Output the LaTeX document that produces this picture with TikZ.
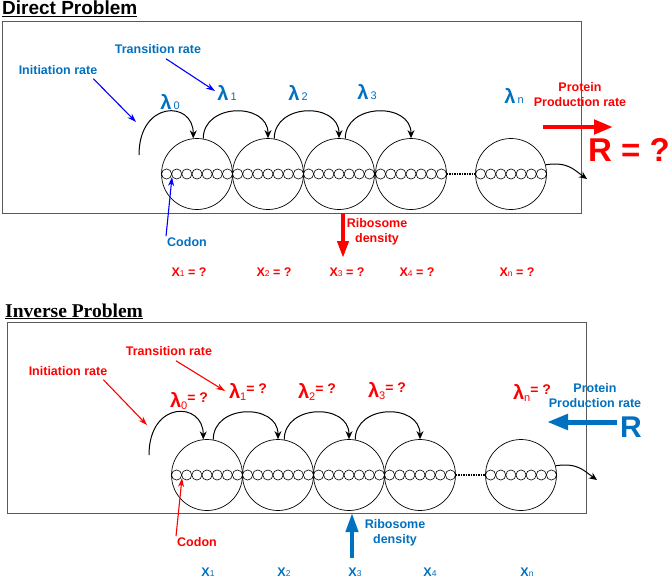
\documentclass[tikz,border=0pt]{standalone}
\usepackage{fontspec}
\setmainfont{Liberation Sans}
\newfontfamily\timesfont{Liberation Serif}
\usetikzlibrary{arrows.meta}
\definecolor{txtblue}{RGB}{0,112,192}
\definecolor{ptrblue}{RGB}{0,0,255}
\definecolor{ptrred}{RGB}{255,0,0}
\definecolor{boxgray}{RGB}{90,90,90}
\newcommand{\lam}[1]{{\fontsize{20}{20}\selectfont λ}\,{\fontsize{11}{11}\selectfont\mdseries #1}}
\newcommand{\lamq}[1]{{\fontsize{20}{20}\selectfont λ}\raisebox{-2pt}{\fontsize{11}{11}\selectfont\mdseries #1}\raisebox{5pt}{\fontsize{14}{14}\selectfont = ?}}
\newcommand{\xsub}[1]{X{\fontsize{8.5}{8.5}\selectfont\mdseries #1}}

\begin{document}
\begin{tikzpicture}[x=1pt,y=-1pt,
  ribo/.style={circle,draw,line width=0.7pt,minimum size=71pt,inner sep=0pt},
  lbl/.style={font=\fontsize{12.5}{15}\selectfont\bfseries,align=center,inner sep=0pt},
  hop/.style={line width=1pt,-{Stealth[length=8pt,width=7pt]}},
  ptr/.style={line width=1.1pt,-{Stealth[length=9pt,width=6pt]}},
  fat/.style={line width=4.5pt,-{Triangle[length=19pt,width=14pt]}},
  frame/.style={draw=boxgray,line width=0.9pt}]
\useasboundingbox (0,0) rectangle (669,578);

% direct problem
\node[font=\fontsize{19}{20}\selectfont\bfseries,anchor=base west,inner sep=0pt] (dtitle) at (2,14.5) {\underline{Direct Problem}};
\draw[frame] (2,21) rectangle (581,213);

\foreach \n/\x in {1/197,2/268,3/339,4/411,5/511}
  \node[ribo] (d\n) at (\x,174) {};
\foreach \n in {1,...,5}
  \foreach \k in {-3,...,3}
    \draw[line width=0.6pt] ([xshift=\k*10.14pt]d\n.center) circle[radius=5.07pt];
\draw[line width=1.3pt,dash pattern=on 1.5pt off 1pt] (d4.east) -- (d5.west);

\coordinate (dstart) at (139,155);
\coordinate (dout) at (587,179);
\draw[hop] (dstart) .. controls +(0,-55) and +(0,-38) .. (d1.96);
\foreach \a/\b in {1/2,2/3,3/4}
  \draw[hop] (d\a.80) .. controls +(0,-36) and +(0,-36) .. (d\b.north);
\draw[hop] (d5.15) .. controls +(22,-3) and +(-14,-10) .. (dout);

\node[lbl,text=txtblue] (dl0) at (170,102) {\lam{0}};
\node[lbl,text=txtblue] (dl1) at (227,93) {\lam{1}};
\node[lbl,text=txtblue] (dl2) at (298,93) {\lam{2}};
\node[lbl,text=txtblue] (dl3) at (367,92) {\lam{3}};
\node[lbl,text=txtblue] (dln) at (514,96) {\lam{n}};

\node[lbl,text=txtblue] (dinit) at (58,70) {Initiation rate};
\node[lbl,text=txtblue] (dtrans) at (158,49) {Transition rate};
\node[lbl,text=txtblue] (dcodon) at (187,242) {Codon};
\coordinate (dinitTip) at (136,122);
\coordinate (dtransTip) at (215,91);
\coordinate (dcodonTip) at (172,177);
\draw[ptr,ptrblue] ([xshift=-4pt,yshift=-4pt]dinit.south east) -- (dinitTip);
\draw[ptr,ptrblue] ([xshift=8pt,yshift=-5pt]dtrans.south) -- (dtransTip);
\draw[ptr,ptrblue] ([xshift=-1pt,yshift=1pt]dcodon.north west) -- (dcodonTip);

\coordinate (ddens0) at (343,213);
\coordinate (ddens1) at (343,258);
\draw[fat,ptrred,line width=4pt,-{Triangle[length=17pt,width=11pt]}] (ddens0) -- (ddens1);
\node[lbl,text=ptrred] (ddens) at (377,232) {Ribosome\\density};

\foreach \n/\x/\s in {1/189/1,2/274/2,3/347/3,4/417/4,5/517/n}
  \node[lbl,text=ptrred] (dx\n) at (\x,272) {\xsub{\s} = ?};

\node[lbl,text=ptrred] (dprot) at (580,95) {Protein\\Production rate};
\coordinate (dflow0) at (543,127);
\coordinate (dflow1) at (613,127);
\draw[fat,ptrred] (dflow0) -- (dflow1);
\node[text=ptrred,font=\fontsize{33}{33}\selectfont\bfseries,inner sep=0pt] (drate) at (629,150) {R = ?};

% inverse problem
\node[font=\fontsize{19.5}{20}\selectfont\bfseries\timesfont,anchor=base west,inner sep=0pt] (ititle) at (5,317) {\underline{Inverse Problem}};
\draw[frame] (7,322) rectangle (586,513);

\foreach \n/\x in {1/207,2/278,3/349,4/420,5/521}
  \node[ribo] (i\n) at (\x,475) {};
\foreach \n in {1,...,5}
  \foreach \k in {-3,...,3}
    \draw[line width=0.6pt] ([xshift=\k*10.14pt]i\n.center) circle[radius=5.07pt];
\draw[line width=1.3pt,dash pattern=on 1.5pt off 1pt] (i4.east) -- (i5.west);

\coordinate (istart) at (149,455);
\coordinate (iout) at (597,480);
\draw[hop] (istart) .. controls +(0,-55) and +(0,-38) .. (i1.96);
\foreach \a/\b in {1/2,2/3,3/4}
  \draw[hop] (i\a.80) .. controls +(0,-36) and +(0,-36) .. (i\b.north);
\draw[hop] (i5.15) .. controls +(22,-3) and +(-14,-10) .. (iout);

\node[lbl,text=ptrred] (il0) at (189,401) {\lamq{0}};
\node[lbl,text=ptrred] (il1) at (248,392) {\lamq{1}};
\node[lbl,text=ptrred] (il2) at (317,392) {\lamq{2}};
\node[lbl,text=ptrred] (il3) at (387,391) {\lamq{3}};
\node[lbl,text=ptrred] (iln) at (532,393) {\lamq{n}};

\node[lbl,text=ptrred] (iinit) at (68,371) {Initiation rate};
\node[lbl,text=ptrred] (itrans) at (169,351) {Transition rate};
\node[lbl,text=ptrred] (icodon) at (197,542) {Codon};
\coordinate (iinitTip) at (147,425);
\coordinate (itransTip) at (225,391);
\coordinate (icodonTip) at (182,478);
\draw[ptr,ptrred] ([xshift=-4pt,yshift=-4pt]iinit.south east) -- (iinitTip);
\draw[ptr,ptrred] ([xshift=7pt,yshift=-5pt]itrans.south) -- (itransTip);
\draw[ptr,ptrred] ([xshift=-1pt,yshift=1pt]icodon.north west) -- (icodonTip);

\coordinate (idens0) at (352,558);
\coordinate (idens1) at (352,513);
\draw[fat,txtblue,line width=4pt,-{Triangle[length=19pt,width=12pt]}] (idens0) -- (idens1);
\node[lbl,text=txtblue] (idens) at (395,533) {Ribosome\\density};

\foreach \n/\x/\s in {1/208/1,2/284/2,3/355/3,4/430/4,5/527/n}
  \node[lbl,text=txtblue] (ix\n) at (\x,572) {\xsub{\s}};

\node[lbl,text=txtblue] (iprot) at (595,396) {Protein\\Production rate};
\node[text=txtblue,font=\fontsize{30}{30}\selectfont\bfseries,inner sep=0pt] (irate) at (631,427) {R};
\coordinate (iflow0) at (617,422);
\coordinate (iflow1) at (547,422);
\draw[fat,txtblue,line width=5pt,-{Triangle[length=21pt,width=15pt]}] (iflow0) -- (iflow1);
\end{tikzpicture}
\end{document}
